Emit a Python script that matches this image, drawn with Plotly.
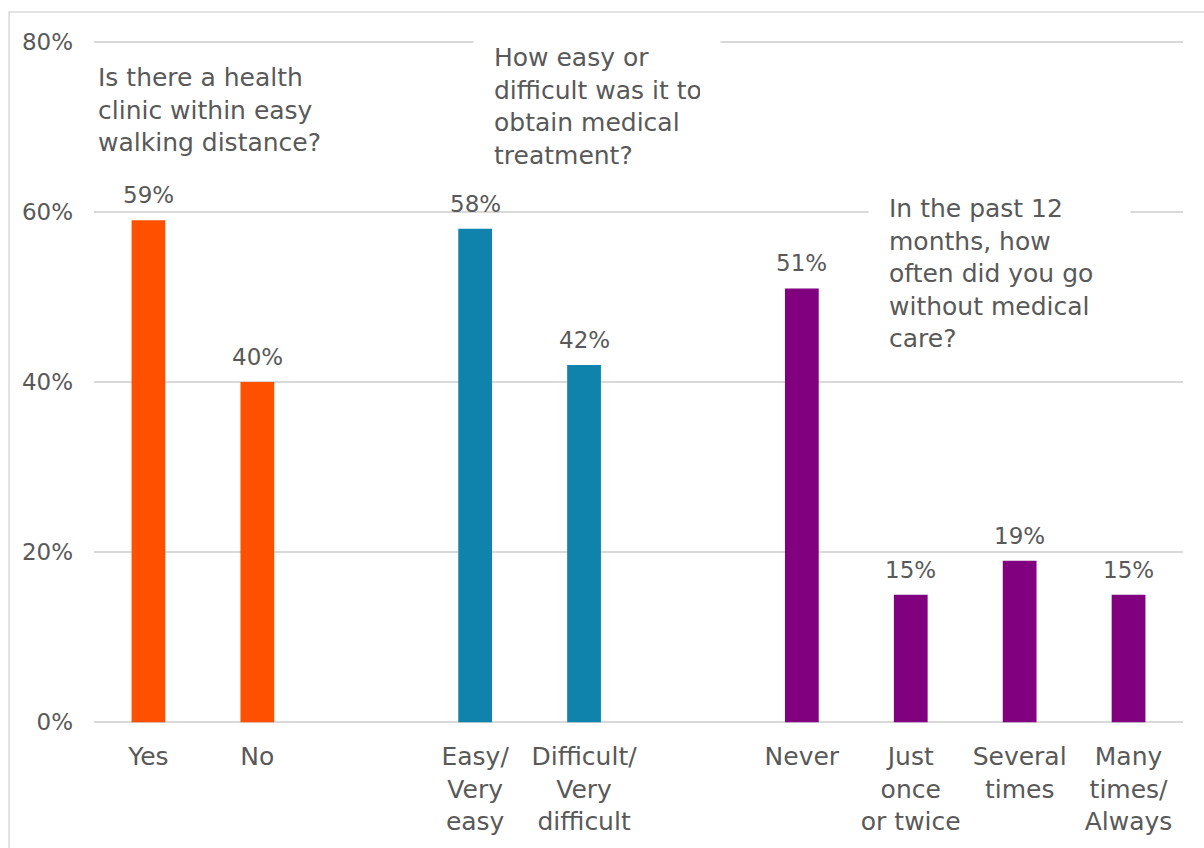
import plotly.graph_objects as go

# ---- data ----
q1_categories = ["Yes", "No"]
q1_values = [0.59, 0.40]
q2_categories = ["Easy/<br>Very<br>easy", "Difficult/<br>Very<br>difficult"]
q2_values = [0.58, 0.42]
q3_categories = ["Never", "Just<br>once<br>or twice", "Several<br>times", "Many<br>times/<br>Always"]
q3_values = [0.51, 0.15, 0.19, 0.15]
spacer_categories = [" ", "  "]
questions = [
    "Is there a health<br>clinic within easy<br>walking distance?",
    "How easy or<br>difficult was it to<br>obtain medical<br>treatment?",
    "In the past 12<br>months, how<br>often did you go<br>without medical<br>care?",
]
y_tick_values = [0, 0.2, 0.4, 0.6, 0.8]

# ---- styles ----
series_colors = ["#FF5000", "#0F83AB", "#800080"]
text_color = "#595959"
grid_color = "#D9D9D9"
font_family = "DejaVu Sans"

all_categories = (q1_categories + [spacer_categories[0]] + q2_categories
                  + [spacer_categories[1]] + q3_categories)

series = [(q1_categories, q1_values), (q2_categories, q2_values), (q3_categories, q3_values)]

fig = go.Figure()
for (cats, vals), col in zip(series, series_colors):
    fig.add_trace(go.Bar(x=cats, y=vals, marker=dict(color=col, line=dict(width=0)),
                         width=0.31, showlegend=False, hoverinfo="skip"))

annotations = []
# value labels
for (cats, vals) in series:
    for c, v in zip(cats, vals):
        annotations.append(dict(x=c, y=v, xref="x", yref="y", text=f"{round(v*100)}%",
                                showarrow=False, xanchor="center", yanchor="bottom", yshift=10,
                                font=dict(family=font_family, size=23, color=text_color)))

# question text boxes (positions in paper coordinates): x, y, pad, bg, width
q_positions = [(0.0027, 0.968, 0, "rgba(0,0,0,0)", None),
               (0.348, 1.027, 20, "white", 206),
               (0.7107, 0.806, 20, "white", 221)]
for text, (px, py, pad, bg, w) in zip(questions, q_positions):
    ann = dict(x=px, y=py, xref="paper", yref="paper", text=text,
               showarrow=False, xanchor="left", yanchor="top", align="left",
               bgcolor=bg, borderpad=pad,
               font=dict(family=font_family, size=25, color=text_color))
    if w:
        ann["width"] = w
    annotations.append(ann)

fig.update_layout(
    width=1204, height=848, autosize=False,
    margin=dict(l=94, r=21, t=40, b=124),
    paper_bgcolor="white", plot_bgcolor="white",
    barmode="overlay",
    font=dict(family=font_family, color=text_color),
    annotations=annotations,
    shapes=[dict(type="rect", xref="paper", yref="paper", x0=-0.078, x1=1.03, y0=-0.21, y1=1.041,
                 line=dict(color=grid_color, width=1.5), fillcolor="rgba(0,0,0,0)", layer="below")],
    xaxis=dict(type="category", categoryorder="array", categoryarray=all_categories,
               range=[-0.5, len(all_categories) - 0.5], showgrid=False, zeroline=False,
               showline=False, ticks="", ticklabelstandoff=15, automargin=False,
               tickfont=dict(family=font_family, size=25, color=text_color)),
    yaxis=dict(range=[-0.002, 0.802], tickvals=y_tick_values, tickformat=".0%",
               showgrid=True, gridcolor=grid_color, gridwidth=1.5, zeroline=False,
               showline=False, ticks="", ticklabelstandoff=20, automargin=False,
               tickfont=dict(family=font_family, size=23, color=text_color)),
)

fig.write_html("out.html")
